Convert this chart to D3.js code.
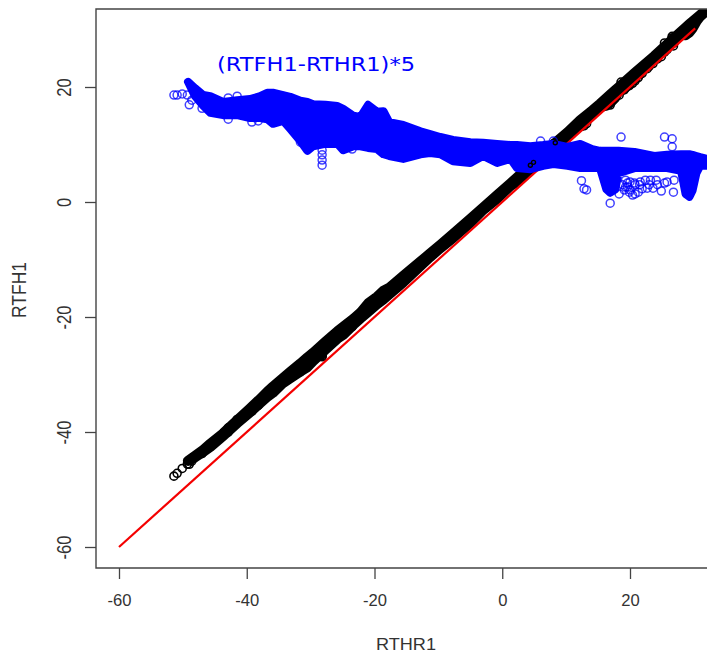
<!DOCTYPE html>
<html><head><meta charset="utf-8">
<script src="https://cdn.jsdelivr.net/npm/d3@7/dist/d3.min.js"></script>
<style>html,body{margin:0;padding:0;background:#fff;overflow:hidden}svg{display:block}</style>
</head><body><svg id="c" width="707" height="654"></svg>
<script>
const tickValues = [-60,-40,-20,0,20];
const xLabel = "RTHR1", yLabel = "RTFH1", note = "(RTFH1-RTHR1)*5";
const refLine = [-60,30.2];
// RTHR1 columns with the upper and lower limits of the dense (RTFH1-RTHR1)*5 cloud
const columnX = [-49.2,-48.1,-46.8,-45.7,-43.7,-41.5,-39.5,-37.9,-36.8,-35.9,-34.3,-33.2,-31.6,-30.5,-29.6,-27.7,-25.8,-24.9,-23.3,-22.2,-21.0,-19.6,-18.6,-17.7,-15.5,-12.8,-11.3,-9.7,-7.7,-5.0,-3.0,-0.8,1.3,2.3,4.4,6.4,8.0,10.2,12.2,14.1,15.3,16.3,16.9,17.7,18.2,20.7,23.8,25.8,28.0,28.7,29.3,29.8,30.4,31.0,32.1];
const cloudHigh = [20.9,19.8,18.6,18.4,17.4,17.7,17.9,18.4,19.0,19.0,18.6,18.3,17.6,17.4,17.0,16.9,16.7,16.2,15.0,14.8,16.9,15.7,15.8,13.9,13.4,12.3,11.8,11.3,10.8,10.4,10.3,10.1,9.9,9.9,9.7,9.9,10.1,9.6,10.1,9.2,8.9,8.9,8.9,8.9,8.9,8.7,8.0,8.2,8.3,8.3,8.3,8.2,8.0,7.8,7.5];
const cloudLow = [20.9,18.4,16.7,15.5,15.1,15.1,14.6,14.6,14.4,13.6,14.1,12.7,10.6,8.9,9.7,10.1,10.1,9.0,9.7,9.7,9.4,9.2,8.3,8.0,7.5,8.3,8.5,8.3,7.1,6.8,8.0,6.8,7.5,5.9,5.7,6.3,6.6,6.3,5.9,5.9,5.9,2.2,1.6,2.2,5.0,5.9,5.9,5.9,5.4,1.4,0.9,2.0,5.0,6.3,6.3];
// isolated open circles
const strayX = [-51.4,-50.9,-50.1,-49.3,-49.0,-48.6,-47.0,-42.9,-39.2,-38.2,-42.9,-41.5,-28.2,-28.2,-28.2,-28.2,-31.6,-23.5,6.0,8.0,18.6,25.4,26.6,26.6,12.4,13.2,12.8,16.9,26.8,24.9,20.8,18.3,19.9,19.3,21.9,23.6,25.4,22.4,20.7,26.9,19.6,21.5,24.1,18.8,20.0,23.0,20.4,21.3,19.3,20.8,21.6,19.6,23.2,25.8,20.0,19.1,22.7,24.3];
const strayY = [18.6,18.6,18.8,18.6,16.9,17.7,16.3,14.4,13.9,14.1,18.1,18.4,9.0,8.2,7.3,6.4,10.4,9.2,10.6,10.6,11.3,11.3,11.0,9.6,3.7,2.1,2.3,-0.2,1.7,1.9,1.4,1.4,1.7,3.8,2.3,2.4,3.3,3.8,3.3,3.8,2.6,3.0,3.8,3.0,3.5,3.0,1.2,1.7,2.6,3.0,3.5,3.3,3.8,3.5,2.1,2.1,2.4,3.0];
// black points still visible above the blue cloud
const topBlackX = [8.3,4.4,4.9];
const topBlackY = [10.3,6.4,6.9];

const W=707,H=654, L=96,T=9,B=568;
const svg=d3.select("#c");
const x=d3.scaleLinear().domain([-60,20]).range([119,630]);
const y=d3.scaleLinear().domain([-60,20]).range([547,87]);
svg.append("defs").append("clipPath").attr("id","plot").append("rect").attr("x",L).attr("y",T).attr("width",W-L+10).attr("height",B-T);
const plot=svg.append("g").attr("clip-path","url(#plot)");
const idx=d3.range(columnX.length);

// black cloud: RTFH1 = RTHR1 + difference
const blackHi=i=>columnX[i]+cloudHigh[i]/5, blackLo=i=>columnX[i]+cloudLow[i]/5;
const areaBlack=d3.area().x(i=>x(columnX[i])).y0(i=>y(blackLo(i))).y1(i=>y(blackHi(i)));
plot.append("path").datum(idx).attr("d",areaBlack).attr("fill","#000").attr("stroke","#000").attr("stroke-width",10).attr("stroke-linejoin","round");
plot.append("g").selectAll("circle").data(strayX.map((v,i)=>i)).join("circle")
  .attr("cx",i=>x(strayX[i])).attr("cy",i=>y(strayX[i]+strayY[i]/5)).attr("r",4)
  .attr("fill","none").attr("stroke","#000").attr("stroke-width",1.6);

// reference line
plot.append("line").attr("x1",x(refLine[0])).attr("y1",y(refLine[0])).attr("x2",x(refLine[1])).attr("y2",y(refLine[1]))
  .attr("stroke","#f40000").attr("stroke-width",2.2);

// blue cloud
const areaBlue=d3.area().x(i=>x(columnX[i])).y0(i=>y(cloudLow[i])).y1(i=>y(cloudHigh[i]));
plot.append("path").datum(idx).attr("d",areaBlue).attr("fill","#0000ff").attr("stroke","#0000ff").attr("stroke-width",8).attr("stroke-linejoin","round");
plot.append("g").selectAll("circle").data(strayX.map((v,i)=>i)).join("circle")
  .attr("cx",i=>x(strayX[i])).attr("cy",i=>y(strayY[i])).attr("r",4)
  .attr("fill","none").attr("stroke","#0000ff").attr("stroke-opacity",.75).attr("stroke-width",1.5);
plot.append("g").selectAll("circle").data(topBlackX.map((v,i)=>i)).join("circle")
  .attr("cx",i=>x(topBlackX[i])).attr("cy",i=>y(topBlackY[i])).attr("r",2)
  .attr("fill","none").attr("stroke","#000").attr("stroke-width",1.4);

// frame
svg.append("path").attr("d",`M${W+5},${T}H${L}V${B}H${W+5}`).attr("fill","none").attr("stroke","#444").attr("stroke-width",1.4);

// axes
const font="'Liberation Sans',Arial,sans-serif";
const ax=svg.append("g").attr("transform",`translate(0,${B})`).call(d3.axisBottom(x).tickValues(tickValues).tickSize(11).tickSizeOuter(0).tickFormat(d=>String(d)));
const ay=svg.append("g").attr("transform",`translate(${L},0)`).call(d3.axisLeft(y).tickValues(tickValues).tickSize(11).tickSizeOuter(0).tickFormat(d=>String(d)));
[ax,ay].forEach(a=>{a.select(".domain").remove();a.selectAll("line").attr("stroke","#444").attr("stroke-width",1.3);
  a.selectAll("text").attr("fill","#333").style("font-family",font).style("font-size","16.6px");});
ax.selectAll("text").attr("y",26).attr("dy","0.71em");
ay.selectAll("text").attr("x",0).attr("y",0).attr("dy",0).attr("text-anchor","middle")
  .attr("transform","translate(-25,0) rotate(-90) scale(1,1.2)");
svg.append("text").attr("x",406).attr("y",650).attr("text-anchor","middle").attr("textLength",60).attr("lengthAdjust","spacingAndGlyphs").attr("fill","#333").style("font-family",font).style("font-size","17px").text(xLabel);
svg.append("text").attr("transform","translate(26,290) rotate(-90) scale(1,1.15)").attr("text-anchor","middle").attr("textLength",56).attr("lengthAdjust","spacingAndGlyphs").attr("fill","#333").style("font-family",font).style("font-size","17px").text(yLabel);
svg.append("text").attr("x",217).attr("y",71).attr("textLength",198).attr("lengthAdjust","spacingAndGlyphs").attr("fill","#0000ff").style("font-family","'DejaVu Sans',sans-serif").style("font-size","20px").text(note);
</script></body></html>
